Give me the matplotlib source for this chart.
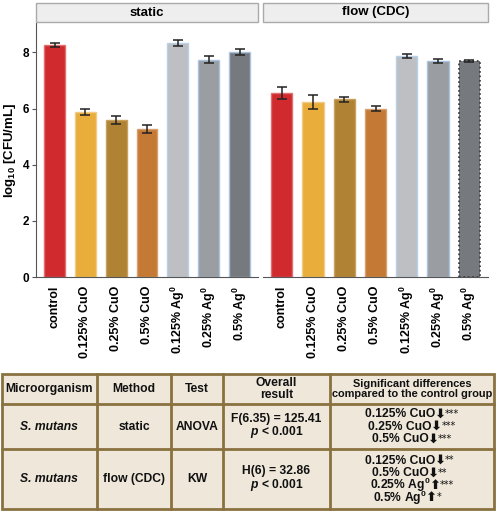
import matplotlib
matplotlib.use("Agg")
import matplotlib.pyplot as plt
from matplotlib.patches import Rectangle
import numpy as np

plt.rcParams['font.family'] = ['Liberation Sans', 'DejaVu Sans']
plt.rcParams['mathtext.fontset'] = 'custom'
plt.rcParams['mathtext.default'] = 'regular'
plt.rcParams['mathtext.it'] = 'Liberation Sans:italic:bold'

# data
groups = ["control", "0.125% CuO", "0.25% CuO", "0.5% CuO",
          "0.125% Ag$^0$", "0.25% Ag$^0$", "0.5% Ag$^0$"]
static_mean = [8.27, 5.88, 5.60, 5.27, 8.34, 7.74, 8.02]
static_err = [0.08, 0.12, 0.14, 0.15, 0.11, 0.13, 0.10]
flow_mean = [6.56, 6.24, 6.33, 5.99, 7.88, 7.69, 7.70]
flow_err = [0.21, 0.26, 0.08, 0.09, 0.08, 0.06, 0.04]
panels = ["static", "flow (CDC)"]

colors = ["#d12a2e", "#e8ad3a", "#b08234", "#c47a35",
          "#bdbfc3", "#9a9da2", "#76797d"]
edges = ["#e07070", "#f0cc88", "#c8a060", "#d8a070",
         "#b8d0e8", "#a8c4e0", "#a8c4e0"]

header = ["Microorganism", "Method", "Test", "Overall\nresult",
          "Significant differences\ncompared to the control group"]
rows = [
    ["S. mutans", "static", "ANOVA", "F(6.35) = 125.41\n$\\it{p}$ < 0.001",
     [("0.125% CuO", "\u2b07", "***"), ("0.25% CuO", "\u2b07", "***"),
      ("0.5% CuO", "\u2b07", "***")]],
    ["S. mutans", "flow (CDC)", "KW", "H(6) = 32.86\n$\\it{p}$ < 0.001",
     [("0.125% CuO", "\u2b07", "**"), ("0.5% CuO", "\u2b07", "**"),
      ("0.25% Ag$^0$", "\u2b06", "***"), ("0.5% Ag$^0$", "\u2b06", "*")]],
]

W, H = 496, 512
fig = plt.figure(figsize=(W / 100, H / 100), dpi=100)

x = np.arange(len(groups))
axl = fig.add_axes([36 / W, 1 - 277 / H, 222 / W, 254 / H])
axr = fig.add_axes([263 / W, 1 - 277 / H, 225 / W, 254 / H])

for ax, mean, err, name in [(axl, static_mean, static_err, panels[0]),
                            (axr, flow_mean, flow_err, panels[1])]:
    ax.bar(x, mean, width=0.68, color=colors, edgecolor=edges, linewidth=1)
    ax.errorbar(x, mean, yerr=err, fmt="none", ecolor="#222222",
                elinewidth=1.1, capsize=3.5, capthick=1.1)
    ax.set_xlim(-0.6, 6.6)
    ax.set_ylim(0, 9.05)
    ax.set_xticks(x)
    ax.set_xticklabels(groups, rotation=90, fontsize=9, fontweight="bold")
    ax.tick_params(axis="x", length=0, pad=6)
    for s in ["top", "right"]:
        ax.spines[s].set_visible(False)
    ax.spines["bottom"].set_color("#555555")
    ax.spines["left"].set_color("#555555")
    # facet strip
    pos = ax.get_position()
    fig.add_artist(Rectangle((pos.x0, 1 - 22 / H), pos.width, 19 / H,
                             transform=fig.transFigure, facecolor="#eeeeee",
                             edgecolor="#aaaaaa", linewidth=1))
    fig.text(pos.x0 + pos.width / 2, 1 - 12.5 / H, name, ha="center",
             va="center", fontsize=9.5, fontweight="bold")

last = axr.patches[-1]
last.set_edgecolor("#333333")
last.set_linestyle(":")
last.set_linewidth(1.2)

axl.set_yticks([0, 2, 4, 6, 8])
for t in axl.get_yticklabels():
    t.set_fontweight("bold")
    t.set_fontsize(8.5)
axl.tick_params(axis="y", length=3, color="#555555", pad=2)
axl.set_ylabel("log$_{10}$ [CFU/mL]", fontsize=9.5, fontweight="bold", labelpad=3)
axr.spines["left"].set_visible(False)
axr.set_yticks([])

# table
tab = fig.add_axes([0, 0, 1, 1])
tab.set_xlim(0, W)
tab.set_ylim(H, 0)
tab.axis("off")
tab.patch.set_alpha(0)
bc = "#8a7240"
cols = [1.5, 97, 171, 223, 330, 494]
rys = [374, 404, 449, 509]
tab.add_patch(Rectangle((cols[0], rys[0]), cols[-1] - cols[0], rys[-1] - rys[0],
                        facecolor="#eee7da", edgecolor=bc, linewidth=2))
for cx in cols[1:-1]:
    tab.plot([cx, cx], [rys[0], rys[-1]], color=bc, lw=2)
for ry in rys[1:-1]:
    tab.plot([cols[0], cols[-1]], [ry, ry], color=bc, lw=2)

fs = 8.7
centers = [(cols[i] + cols[i + 1]) / 2 for i in range(5)]
hy = (rys[0] + rys[1]) / 2
for i, h in enumerate(header):
    tab.text(centers[i], hy, h, ha="center", va="center", fontsize=fs if i < 4 else 7.9,
             fontweight="bold", linespacing=0.95, color="#111111")

for r, row in enumerate(rows):
    cy = (rys[r + 1] + rys[r + 2]) / 2
    tab.text(centers[0], cy, row[0], ha="center", va="center", fontsize=fs,
             fontweight="bold", style="italic", color="#111111")
    for i in (1, 2):
        tab.text(centers[i], cy, row[i], ha="center", va="center", fontsize=fs,
                 fontweight="bold", color="#111111")
    tab.text(centers[3], cy, row[3], ha="center", va="center", fontsize=fs,
             fontweight="bold", linespacing=0.95, color="#111111")
    lines = row[4]
    step = 12.3
    y0 = cy - step * (len(lines) - 1) / 2
    for k, (lab, arr, st) in enumerate(lines):
        yy = y0 + k * step
        t = tab.text(centers[4] - 12, yy, lab, ha="center", va="center",
                     fontsize=fs, fontweight="bold", color="#111111")
        a = tab.annotate(arr, xy=(1, 0.5), xycoords=t, xytext=(-1, 0),
                         textcoords="offset points", ha="left", va="center",
                         fontsize=9.5, fontweight="bold", color="#111111",
                         family="DejaVu Sans")
        tab.annotate(st, xy=(1, 0.9), xycoords=a, ha="left", va="top",
                     fontsize=7, color="#111111", family="DejaVu Sans")

fig.savefig("out.png", dpi=100)
